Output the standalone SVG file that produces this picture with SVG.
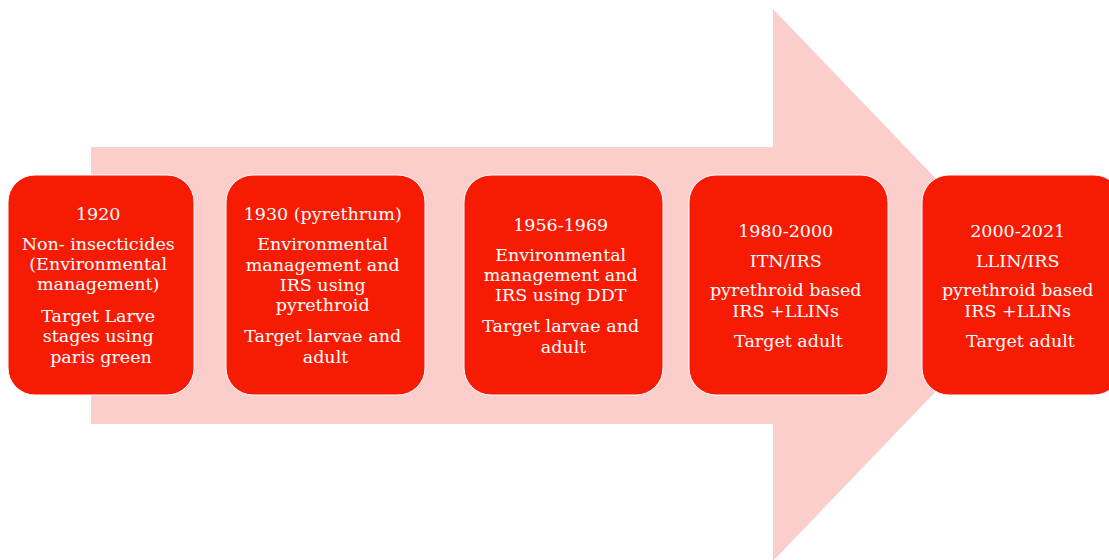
<svg xmlns="http://www.w3.org/2000/svg" width="1109" height="560" viewBox="0 0 1109 560">
  <style>
    .box { fill: #F81B04; stroke: #FFFFFF; stroke-width: 1; }
    .lbl { font-family: "DejaVu Serif", "Liberation Serif", serif; font-size: 17.5px; fill: #FFFFFF; text-anchor: middle; }
  </style>
  <rect width="1109" height="560" fill="#FFFFFF"/>

  <!-- timeline arrow in the background -->
  <g id="timeline-arrow">
    <polygon points="91,147 773,147 773,9 1038,285 773,561 773,424 91,424" fill="#FBCDCB"/>
  </g>

  <g id="stage-1920">
    <rect class="box" x="8" y="175" width="186" height="220" rx="27" ry="27"/>
    <text class="lbl">
      <tspan x="101" y="220">1920</tspan>
      <tspan x="101" y="250">Non- insecticides</tspan>
      <tspan x="101" y="270">(Environmental</tspan>
      <tspan x="101" y="290">management)</tspan>
      <tspan x="101" y="322">Target Larve</tspan>
      <tspan x="101" y="342">stages using</tspan>
      <tspan x="101" y="363">paris green</tspan>
    </text>
  </g>

  <g id="stage-1930">
    <rect class="box" x="226" y="175" width="199" height="220" rx="27" ry="27"/>
    <text class="lbl">
      <tspan x="325.5" y="220">1930 (pyrethrum)</tspan>
      <tspan x="325.5" y="250">Environmental</tspan>
      <tspan x="325.5" y="270.5">management and</tspan>
      <tspan x="325.5" y="290.5">IRS using</tspan>
      <tspan x="325.5" y="310.5">pyrethroid</tspan>
      <tspan x="325.5" y="342">Target larvae and</tspan>
      <tspan x="325.5" y="363">adult</tspan>
    </text>
  </g>

  <g id="stage-1956">
    <rect class="box" x="464" y="175" width="199" height="220" rx="27" ry="27"/>
    <text class="lbl">
      <tspan x="563.5" y="231">1956-1969</tspan>
      <tspan x="563.5" y="260.5">Environmental</tspan>
      <tspan x="563.5" y="281">management and</tspan>
      <tspan x="563.5" y="301">IRS using DDT</tspan>
      <tspan x="563.5" y="331.5">Target larvae and</tspan>
      <tspan x="563.5" y="352.5">adult</tspan>
    </text>
  </g>

  <g id="stage-1980">
    <rect class="box" x="689" y="175" width="199" height="220" rx="27" ry="27"/>
    <text class="lbl">
      <tspan x="788.5" y="236.5">1980-2000</tspan>
      <tspan x="788.5" y="266.5">ITN/IRS</tspan>
      <tspan x="788.5" y="296">pyrethroid based</tspan>
      <tspan x="788.5" y="316.5">IRS +LLINs</tspan>
      <tspan x="788.5" y="346.5">Target adult</tspan>
    </text>
  </g>

  <g id="stage-2000">
    <rect class="box" x="922" y="175" width="199" height="220" rx="27" ry="27"/>
    <text class="lbl">
      <tspan x="1020.5" y="236.5">2000-2021</tspan>
      <tspan x="1020.5" y="266.5">LLIN/IRS</tspan>
      <tspan x="1020.5" y="296">pyrethroid based</tspan>
      <tspan x="1020.5" y="316.5">IRS +LLINs</tspan>
      <tspan x="1020.5" y="346.5">Target adult</tspan>
    </text>
  </g>

  <g id="connectors"></g>
</svg>
